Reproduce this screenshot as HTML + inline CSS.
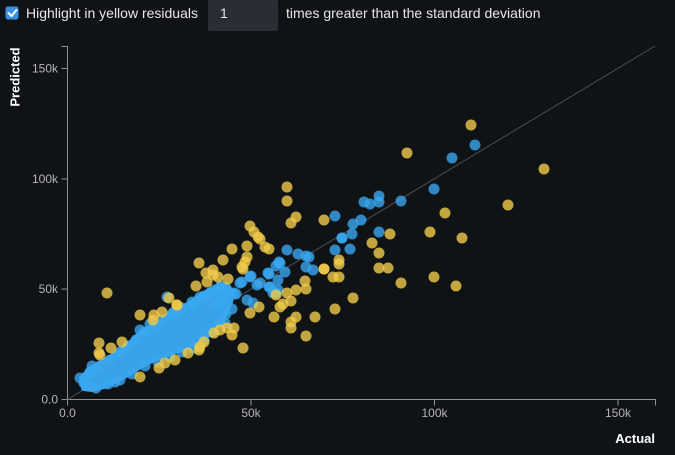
<!DOCTYPE html>
<html><head><meta charset="utf-8"><style>
html,body{margin:0;padding:0;background:#101316;}
body{width:675px;height:455px;overflow:hidden;}
svg{display:block;font-family:"Liberation Sans",Arial,sans-serif;}
.b{fill:#3aa8f2;fill-opacity:.78}
.y{fill:#f0cb4a;fill-opacity:.8}
.t{fill:#b4b6b8;font-size:12px}
</style></head><body>
<svg width="675" height="455" viewBox="0 0 675 455" xmlns="http://www.w3.org/2000/svg">
<rect width="675" height="455" fill="#101316"/>
<!-- top bar -->
<rect x="5.5" y="6.5" width="13" height="13" rx="2.5" fill="#3a8ee6"/>
<path d="M8.5 13 l3 3 l5 -6" stroke="#fff" stroke-width="2" fill="none" stroke-linecap="round" stroke-linejoin="round"/>
<text x="26" y="18" fill="#e4e6e8" font-size="14">Highlight in yellow residuals</text>
<rect x="208" y="0" width="70" height="31" rx="2" fill="#2a2d34"/>
<text x="220" y="18" fill="#e4e6e8" font-size="14">1</text>
<text x="286" y="18" fill="#e4e6e8" font-size="14">times greater than the standard deviation</text>

<!-- axes -->
<g stroke="#8d9094" stroke-width="1" fill="none">
<path d="M61.5 46.5 H67.5 V399.5 H655.5 V405.5"/>
<path d="M61.5 68.5 H67.5 M61.5 179 H67.5 M61.5 289 H67.5 M61.5 399.5 H67.5"/>
<path d="M67.5 399.5 V405.5 M251 399.5 V405.5 M434.5 399.5 V405.5 M618 399.5 V405.5"/>
</g>
<line x1="67.5" y1="399.5" x2="655" y2="46" stroke="#4a4d52" stroke-width="1"/>
<g class="t" text-anchor="end">
<text x="58" y="72.5">150k</text>
<text x="58" y="183">100k</text>
<text x="58" y="293">50k</text>
<text x="58" y="403.5">0.0</text>
</g>
<g class="t" text-anchor="middle">
<text x="67.5" y="417">0.0</text>
<text x="251" y="417">50k</text>
<text x="434.5" y="417">100k</text>
<text x="618" y="417">150k</text>
</g>
<text x="655" y="443" text-anchor="end" fill="#fff" font-size="13" font-weight="bold">Actual</text>
<text transform="translate(19.5,77) rotate(-90)" text-anchor="middle" fill="#fff" font-size="13" font-weight="bold">Predicted</text>

<!-- dense core -->
<path d="M82 378 L90 370 L100 364 L110 358 L122 350 L132 342 L140 334 L150 328 L160 322 L168 316 L178 310 L188 305 L198 298 L208 292 L218 288 L226 286 L232 292 L230 302 L226 312 L222 320 L216 326 L208 334 L200 340 L190 346 L178 350 L165 355 L152 360 L140 366 L128 374 L116 380 L104 386 L92 389 L84 388 Z" fill="#38a2e8" stroke="#38a2e8" stroke-width="6" stroke-linejoin="round"/>

<g class="b">
<circle cx="475" cy="145" r="5.5"/><circle cx="452" cy="158" r="5.5"/><circle cx="434" cy="189" r="5.5"/>
<circle cx="401" cy="201" r="5.5"/><circle cx="379" cy="196" r="5.5"/><circle cx="379" cy="202" r="5.5"/>
<circle cx="364" cy="202" r="5.5"/><circle cx="370" cy="204" r="5.5"/><circle cx="335" cy="216" r="5.5"/>
<circle cx="361" cy="220" r="5.5"/><circle cx="353" cy="224" r="5.5"/><circle cx="352" cy="234" r="5.5"/>
<circle cx="342" cy="238" r="5.5"/><circle cx="342" cy="238" r="5.5"/><circle cx="379" cy="232" r="5.5"/>
<circle cx="335" cy="250" r="5.5"/><circle cx="350" cy="249" r="5.5"/><circle cx="287" cy="250" r="5.5"/>
<circle cx="298" cy="254" r="5.5"/><circle cx="306" cy="256" r="5.5"/><circle cx="309" cy="257" r="5.5"/>
<circle cx="306" cy="267" r="5.5"/><circle cx="313" cy="270" r="5.5"/><circle cx="280" cy="263" r="5.5"/>
<circle cx="276" cy="266" r="5.5"/><circle cx="269" cy="274" r="5.5"/><circle cx="285" cy="272" r="5.5"/>
<circle cx="278" cy="280" r="5.5"/><circle cx="260" cy="283" r="5.5"/><circle cx="269" cy="287" r="5.5"/>
<circle cx="278" cy="290" r="5.5"/><circle cx="273" cy="293" r="5.5"/><circle cx="279" cy="262" r="5.5"/>
<circle cx="251" cy="276" r="5.5"/><circle cx="242" cy="282" r="5.5"/><circle cx="221" cy="286" r="5.5"/>
<circle cx="232" cy="309" r="5.5"/><circle cx="236" cy="294" r="5.5"/><circle cx="250" cy="277" r="5.5"/>
<circle cx="257" cy="285" r="5.5"/><circle cx="247" cy="300" r="5.5"/><circle cx="253" cy="303" r="5.5"/>
<circle cx="268" cy="273" r="5.5"/><circle cx="270" cy="287" r="5.5"/><circle cx="276" cy="293" r="5.5"/>
<circle cx="225" cy="323" r="5.5"/><circle cx="222" cy="302" r="5.5"/><circle cx="84" cy="383" r="5.5"/>
<circle cx="115" cy="382" r="5.5"/><circle cx="240" cy="283" r="5.5"/><circle cx="174" cy="312" r="5.5"/>
<circle cx="194" cy="305" r="5.5"/><circle cx="200" cy="297" r="5.5"/><circle cx="210" cy="293" r="5.5"/>
<circle cx="220" cy="287" r="5.5"/><circle cx="214" cy="305" r="5.5"/><circle cx="220" cy="302" r="5.5"/>
<circle cx="167" cy="297" r="5.5"/><circle cx="234" cy="293" r="5.5"/><circle cx="224" cy="300" r="5.5"/>
<!-- edges of cluster -->
<circle cx="90" cy="372" r="5.5"/><circle cx="100" cy="366" r="5.5"/><circle cx="110" cy="360" r="5.5"/>
<circle cx="120" cy="352" r="5.5"/><circle cx="128" cy="346" r="5.5"/><circle cx="136" cy="340" r="5.5"/>
<circle cx="145" cy="332" r="5.5"/><circle cx="155" cy="326" r="5.5"/><circle cx="162" cy="320" r="5.5"/>
<circle cx="172" cy="314" r="5.5"/><circle cx="182" cy="308" r="5.5"/><circle cx="192" cy="302" r="5.5"/>
<circle cx="204" cy="296" r="5.5"/><circle cx="214" cy="290" r="5.5"/><circle cx="226" cy="288" r="5.5"/>
<circle cx="88" cy="386" r="5.5"/><circle cx="96" cy="388" r="5.5"/><circle cx="108" cy="384" r="5.5"/>
<circle cx="120" cy="380" r="5.5"/><circle cx="132" cy="374" r="5.5"/><circle cx="145" cy="366" r="5.5"/>
<circle cx="158" cy="362" r="5.5"/><circle cx="170" cy="357" r="5.5"/><circle cx="182" cy="352" r="5.5"/>
<circle cx="194" cy="348" r="5.5"/><circle cx="204" cy="340" r="5.5"/><circle cx="212" cy="332" r="5.5"/>
<circle cx="220" cy="322" r="5.5"/><circle cx="226" cy="314" r="5.5"/><circle cx="80" cy="378" r="5.5"/>
<circle cx="92" cy="366" r="5.5"/><circle cx="140" cy="330" r="5.5"/><circle cx="150" cy="324" r="5.5"/>
</g>

<g class="y">
<circle cx="471" cy="125" r="5.5"/><circle cx="407" cy="153" r="5.5"/><circle cx="544" cy="169" r="5.5"/>
<circle cx="508" cy="205" r="5.5"/><circle cx="445" cy="213" r="5.5"/><circle cx="430" cy="232" r="5.5"/>
<circle cx="462" cy="238" r="5.5"/><circle cx="390" cy="234" r="5.5"/><circle cx="372" cy="243" r="5.5"/>
<circle cx="379" cy="253" r="5.5"/><circle cx="379" cy="268" r="5.5"/><circle cx="388" cy="268" r="5.5"/>
<circle cx="401" cy="283" r="5.5"/><circle cx="434" cy="277" r="5.5"/><circle cx="456" cy="286" r="5.5"/>
<circle cx="287" cy="187" r="5.5"/><circle cx="287" cy="201" r="5.5"/><circle cx="296" cy="217" r="5.5"/>
<circle cx="291" cy="223" r="5.5"/><circle cx="324" cy="220" r="5.5"/>
<circle cx="250" cy="226" r="5.5"/><circle cx="254" cy="232" r="5.5"/><circle cx="258" cy="237" r="5.5"/>
<circle cx="260" cy="239" r="5.5"/><circle cx="265" cy="247" r="5.5"/><circle cx="269" cy="249" r="5.5"/>
<circle cx="232" cy="249" r="5.5"/><circle cx="247" cy="246" r="5.5"/><circle cx="223" cy="260" r="5.5"/>
<circle cx="247" cy="257" r="5.5"/><circle cx="245" cy="262" r="5.5"/><circle cx="242" cy="267" r="5.5"/>
<circle cx="243" cy="269" r="5.5"/><circle cx="199" cy="263" r="5.5"/><circle cx="206" cy="273" r="5.5"/>
<circle cx="213" cy="270" r="5.5"/><circle cx="218" cy="277" r="5.5"/><circle cx="228" cy="279" r="5.5"/>
<circle cx="213" cy="275" r="5.5"/><circle cx="196" cy="286" r="5.5"/><circle cx="207" cy="282" r="5.5"/>
<circle cx="305" cy="281" r="5.5"/><circle cx="324" cy="269" r="5.5"/><circle cx="324" cy="269" r="5.5"/>
<circle cx="339" cy="260" r="5.5"/><circle cx="339" cy="264" r="5.5"/><circle cx="333" cy="277" r="5.5"/>
<circle cx="339" cy="277" r="5.5"/><circle cx="306" cy="289" r="5.5"/><circle cx="296" cy="290" r="5.5"/>
<circle cx="287" cy="293" r="5.5"/><circle cx="291" cy="301" r="5.5"/><circle cx="283" cy="304" r="5.5"/>
<circle cx="280" cy="307" r="5.5"/><circle cx="276" cy="295" r="5.5"/><circle cx="353" cy="298" r="5.5"/>
<circle cx="335" cy="309" r="5.5"/><circle cx="274" cy="317" r="5.5"/><circle cx="296" cy="317" r="5.5"/>
<circle cx="315" cy="317" r="5.5"/><circle cx="291" cy="322" r="5.5"/><circle cx="291" cy="328" r="5.5"/>
<circle cx="306" cy="336" r="5.5"/><circle cx="259" cy="307" r="5.5"/><circle cx="250" cy="313" r="5.5"/>
<circle cx="107" cy="293" r="5.5"/><circle cx="140" cy="315" r="5.5"/><circle cx="169" cy="298" r="5.5"/>
<circle cx="177" cy="305" r="5.5"/><circle cx="177" cy="305" r="5.5"/><circle cx="162" cy="312" r="5.5"/>
<circle cx="154" cy="315" r="5.5"/><circle cx="153" cy="320" r="5.5"/>
<circle cx="99" cy="343" r="5.5"/><circle cx="100" cy="355" r="5.5"/><circle cx="99" cy="353" r="5.5"/>
<circle cx="122" cy="342" r="5.5"/><circle cx="111" cy="348" r="5.5"/><circle cx="140" cy="377" r="5.5"/>
<circle cx="159" cy="368" r="5.5"/><circle cx="175" cy="360" r="5.5"/><circle cx="165" cy="363" r="5.5"/>
<circle cx="227" cy="328" r="5.5"/><circle cx="234" cy="328" r="5.5"/><circle cx="220" cy="330" r="5.5"/>
<circle cx="214" cy="333" r="5.5"/><circle cx="232" cy="335" r="5.5"/><circle cx="204" cy="342" r="5.5"/>
<circle cx="200" cy="347" r="5.5"/><circle cx="199" cy="350" r="5.5"/><circle cx="188" cy="353" r="5.5"/>
<circle cx="243" cy="348" r="5.5"/>
</g>
</svg>
</body></html>
